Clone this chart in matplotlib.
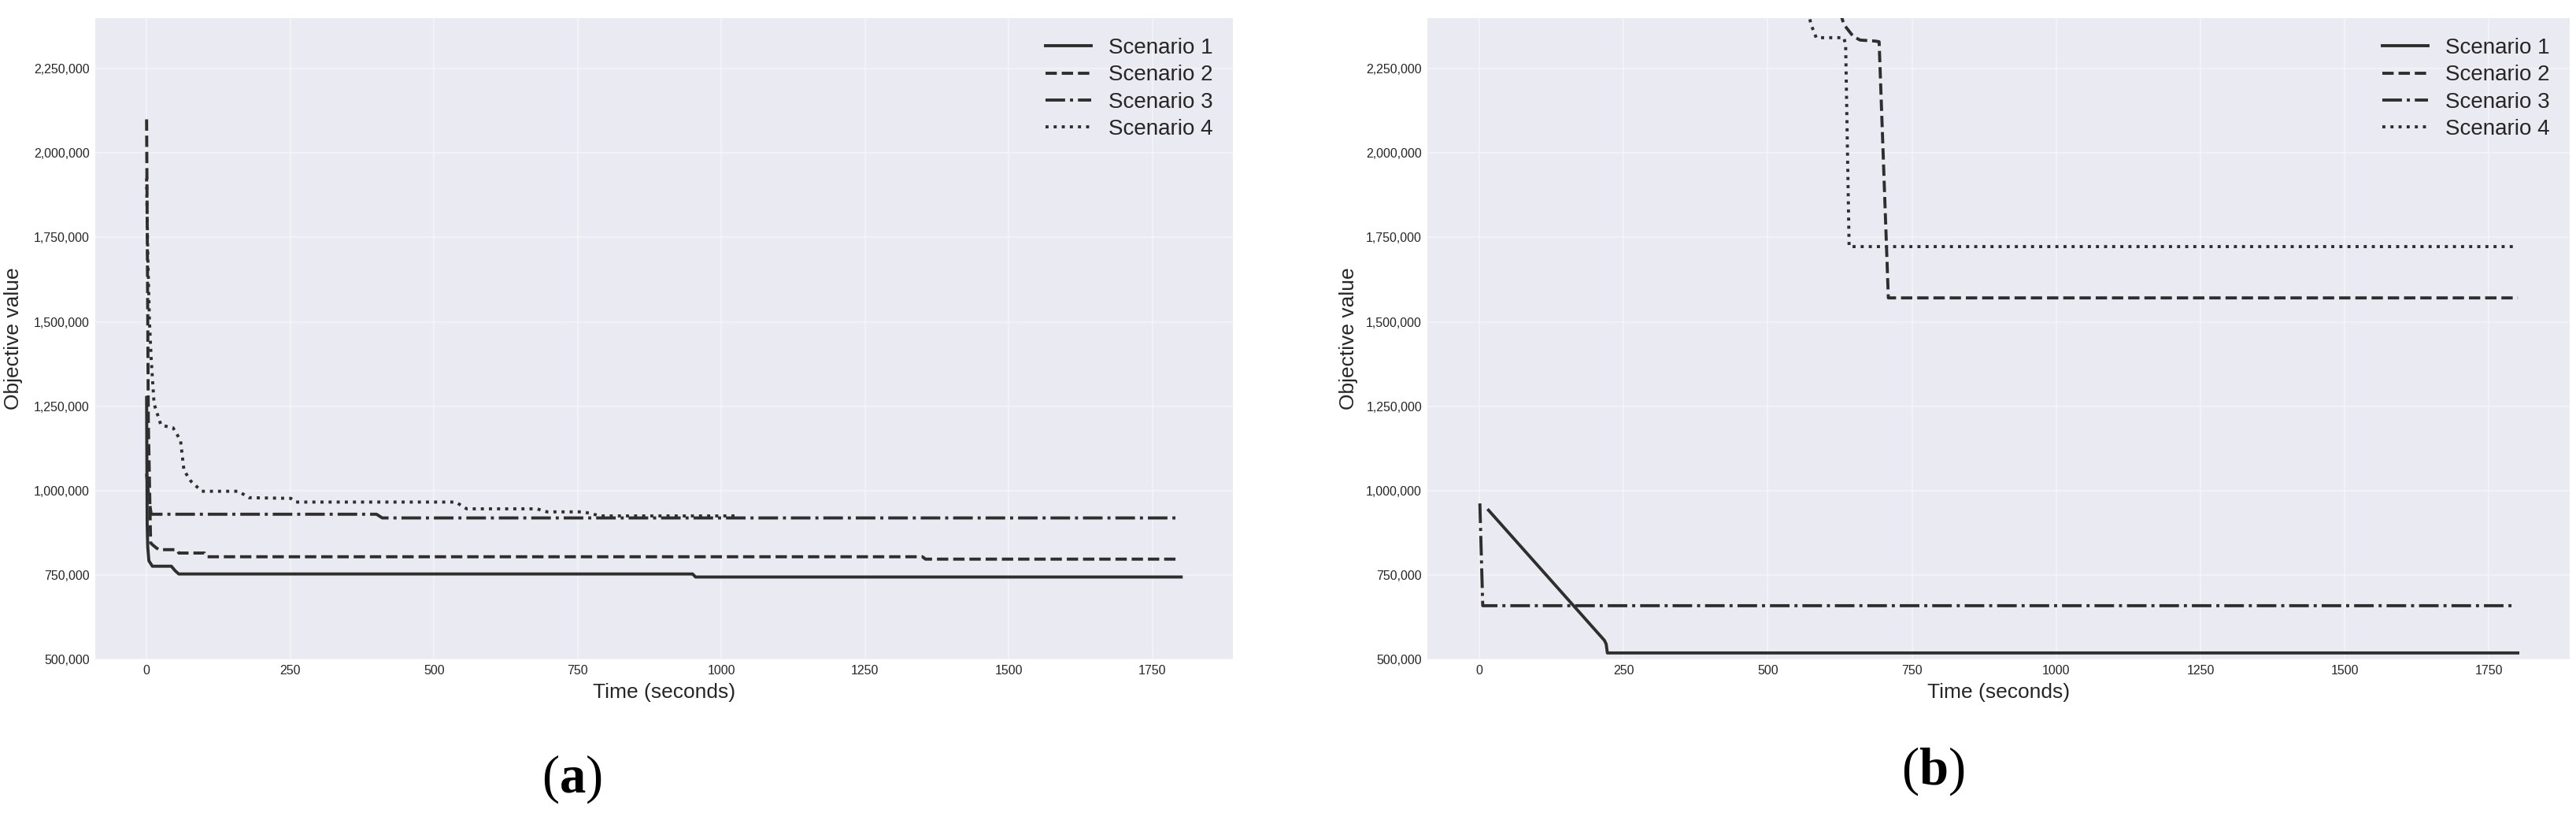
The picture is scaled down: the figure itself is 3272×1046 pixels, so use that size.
import matplotlib
matplotlib.use('Agg')
import matplotlib.pyplot as plt
from matplotlib.ticker import MultipleLocator, StrMethodFormatter

plt.rcParams['font.family'] = ['Liberation Sans', 'DejaVu Sans']
plt.rcParams['mathtext.fontset'] = 'custom'
plt.rcParams['mathtext.rm'] = 'Liberation Serif'
plt.rcParams['mathtext.bf'] = 'Liberation Serif:bold'

LINE = '#2e2e2e'
BG = '#eaeaf2'

labels = ['Scenario 1', 'Scenario 2', 'Scenario 3', 'Scenario 4']
styles = ['-', '--', '-.', ':']

# ---- panel (a): time (s) / objective value ----
a1_t = [0, 1, 2, 4, 10, 43, 50, 56, 950, 955, 1800]
a1_v = [1276000, 900000, 832000, 792000, 776000, 776000, 762000, 753000, 753000, 744000, 744000]
a2_t = [0, 3, 7, 10, 17, 22, 53, 56, 101, 105, 1350, 1355, 1795]
a2_v = [2100000, 1200000, 845000, 840000, 830000, 825000, 825000, 815000, 815000, 804000, 804000, 797000, 797000]
a3_t = [0, 4, 8, 400, 410, 1795]
a3_v = [1050000, 975000, 930000, 930000, 919000, 919000]
a4_t = [0, 2, 5, 8, 13, 25, 46, 59, 65, 77, 96, 160, 178, 251, 260, 538, 557, 679, 697, 760, 790, 1030]
a4_v = [1925000, 1700000, 1500000, 1390000, 1257000, 1194000, 1186000, 1149000, 1060000, 1028000,
        998000, 998000, 979000, 977000, 966000, 966000, 946000, 946000, 937000, 937000, 925000, 925000]

# ---- panel (b) ----
b1_t = [16, 217, 220, 222, 1800]
b1_v = [942000, 556000, 545000, 519000, 519000]
b2_t = [625, 632, 648, 660, 686, 693, 709, 1800]
b2_v = [2420000, 2381000, 2346000, 2335000, 2332000, 2330000, 1571000, 1571000]
b3_t = [1, 6, 1795]
b3_v = [962000, 659000, 659000]
b4_t = [570, 575, 584, 632, 635, 641, 1800]
b4_v = [2420000, 2381000, 2342000, 2342000, 2320000, 1723000, 1723000]

panels = [
    ([a1_t, a2_t, a3_t, a4_t], [a1_v, a2_v, a3_v, a4_v]),
    ([b1_t, b2_t, b3_t, b4_t], [b1_v, b2_v, b3_v, b4_v]),
]

fig = plt.figure(figsize=(32.73, 10.46), dpi=100)
ax_a = fig.add_axes([0.03682, 0.19981, 0.44164, 0.77820])
ax_b = fig.add_axes([0.55393, 0.19981, 0.44333, 0.77820])

for ax, (ts, vs), lpad in zip([ax_a, ax_b], panels, [10, 7]):
    ax.set_facecolor(BG)
    for s in ax.spines.values():
        s.set_visible(False)
    ax.grid(True, color='white', lw=1.1, alpha=0.45)
    ax.set_axisbelow(True)
    for t, v, ls, lab in zip(ts, vs, styles, labels):
        ax.plot(t, v, ls, color=LINE, lw=2.8, label=lab)
    ax.set_xlim(-90, 1890)
    ax.set_ylim(500000, 2400000)
    ax.xaxis.set_major_locator(MultipleLocator(250))
    ax.yaxis.set_major_locator(MultipleLocator(250000))
    ax.yaxis.set_major_formatter(StrMethodFormatter('{x:,.0f}'))
    ax.tick_params(length=0, pad=5, labelsize=11.5, colors='#262626')
    ax.set_xlabel('Time (seconds)', fontsize=19, color='#262626', labelpad=6)
    ax.set_ylabel('Objective value', fontsize=19, color='#262626', labelpad=lpad)
    ax.legend(loc='upper right', frameon=False, fontsize=20, labelspacing=0.3,
              handlelength=2.1, handletextpad=0.8, labelcolor='#262626')

fig.text(0.222, 0.054, r'$(\mathbf{a})$', fontsize=48, ha='center', va='center')
fig.text(0.750, 0.064, r'$(\mathbf{b})$', fontsize=48, ha='center', va='center')

fig.savefig('out.png', dpi=100, facecolor='white')
